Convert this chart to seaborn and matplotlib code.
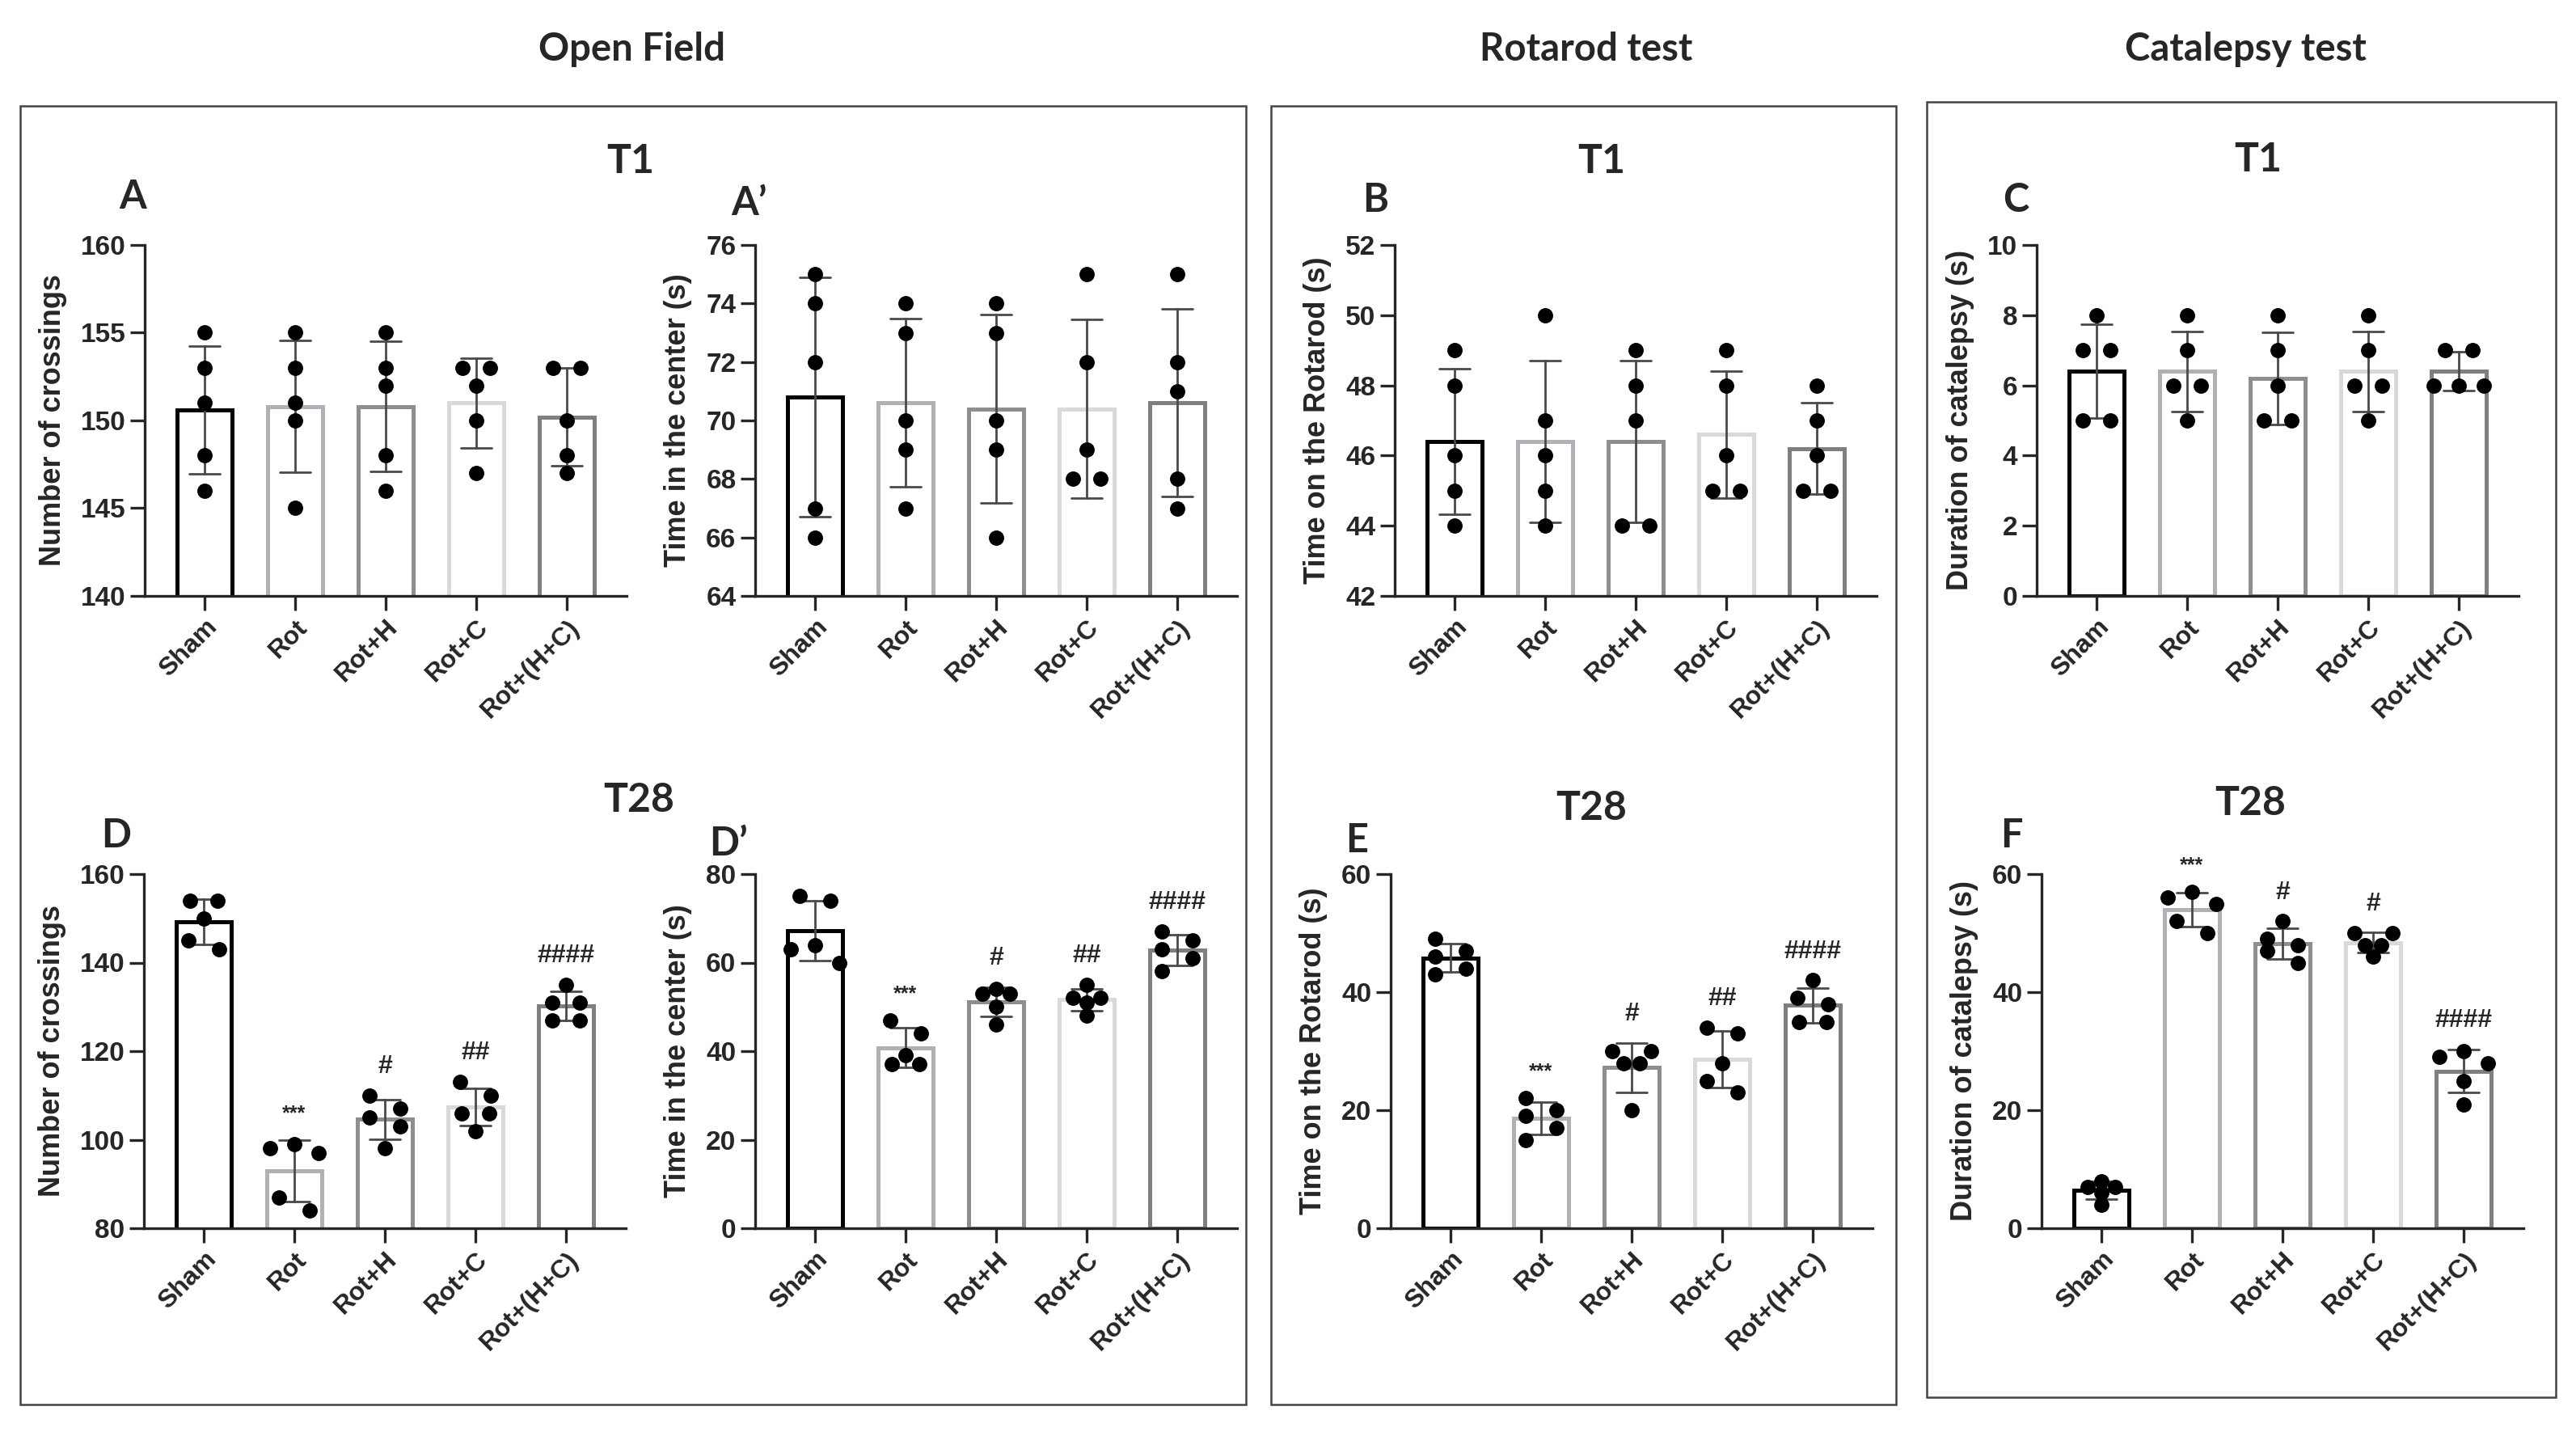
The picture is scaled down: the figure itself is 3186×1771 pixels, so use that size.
import numpy as np
import pandas as pd
import matplotlib
matplotlib.use('Agg')
import matplotlib.pyplot as plt
from matplotlib.patches import Rectangle
import seaborn as sns

sns.set_style('ticks')
plt.rcParams['font.family'] = ['Liberation Sans', 'DejaVu Sans']
plt.rcParams['font.weight'] = 'bold'
plt.rcParams['axes.labelweight'] = 'bold'

W, H = 3186, 1771

# groups and bar edge colours
groups = ['Sham', 'Rot', 'Rot+H', 'Rot+C', 'Rot+(H+C)']
edge_colors = ['#000000', '#b0b0b6', '#8e8e8e', '#d9d9d9', '#7f7f7f']

# T1 values (5 animals per group)
crossings_t1 = [[155, 153, 151, 148, 146], [155, 153, 151, 150, 145], [155, 153, 152, 148, 146],
                [153, 153, 152, 150, 147], [153, 153, 150, 148, 147]]
center_t1 = [[75, 74, 72, 67, 66], [74, 73, 70, 69, 67], [74, 73, 70, 69, 66],
             [75, 72, 69, 68, 68], [75, 72, 71, 68, 67]]
rotarod_t1 = [[49, 48, 46, 45, 44], [50, 47, 46, 45, 44], [49, 48, 47, 44, 44],
              [49, 48, 46, 45, 45], [48, 47, 46, 45, 45]]
catalepsy_t1 = [[8, 7, 7, 5, 5], [8, 7, 6, 6, 5], [8, 7, 6, 5, 5],
                [8, 7, 6, 6, 5], [7, 7, 6, 6, 6]]

# T28 values
crossings_t28 = [[154, 154, 150, 145, 143], [99, 98, 97, 87, 84], [110, 107, 105, 103, 98],
                 [113, 110, 106, 106, 102], [135, 131, 131, 127, 127]]
center_t28 = [[75, 74, 64, 63, 60], [47, 44, 39, 37, 37], [54, 53, 53, 50, 46],
              [55, 52, 52, 51, 48], [67, 65, 63, 61, 58]]
rotarod_t28 = [[49, 47, 46, 44, 43], [22, 20, 19, 17, 15], [30, 30, 28, 28, 20],
               [34, 33, 28, 25, 23], [42, 39, 38, 35, 35]]
catalepsy_t28 = [[8, 7, 7, 6, 4], [57, 56, 55, 52, 50], [52, 49, 48, 47, 45],
                 [50, 50, 48, 48, 46], [30, 29, 28, 25, 21]]

# significance marks
marks_crossings_t28 = ['', '***', '#', '##', '####']
marks_center_t28 = ['', '***', '#', '##', '####']
marks_rotarod_t28 = ['', '***', '#', '##', '####']
marks_catalepsy_t28 = ['', '***', '#', '#', '####']


def spread(values, px_per_unit, thr=18):
    # simple Prism-like scatter: spread points that would overlap
    vals = np.asarray(values, float)
    order = list(np.argsort(-vals, kind='stable'))
    offsets = np.zeros(len(vals))
    clusters = [[order[0]]]
    for i in order[1:]:
        if (vals[clusters[-1][-1]] - vals[i]) * px_per_unit < thr:
            clusters[-1].append(i)
        else:
            clusters.append([i])
    for cl in clusters:
        if len(cl) == 1:
            continue
        cv = vals[cl]
        ties = sorted([v for v in np.unique(cv) if (cv == v).sum() > 1], reverse=True)
        if ties:
            steps = [0.3] if len(ties) == 1 else [0.42, 0.18]
            for k, v in enumerate(ties):
                idx = [i for i in cl if vals[i] == v]
                n = len(idx)
                step = steps[k % len(steps)] if n == 2 else 0.28
                for j, i in enumerate(idx):
                    offsets[i] = (j - (n - 1) / 2) * step
        elif len(cl) == 3:
            for i, o in zip(cl, [0, -0.27, 0.27]):
                offsets[i] = o
        else:
            for j, i in enumerate(cl):
                offsets[i] = -0.17 if j % 2 == 0 else 0.17
    return offsets


fig = plt.figure(figsize=(W / 100, H / 100), dpi=100)


def draw_panel(left, top, bottom, values, ylim, yticks, ylabel, marks=None):
    ax = fig.add_axes([left / W, 1 - bottom / H, 596 / W, (bottom - top) / H])
    df = pd.DataFrame({'group': np.repeat(groups, [len(v) for v in values]),
                       'value': np.concatenate(values)})
    sns.barplot(data=df, x='group', y='value', hue='group', order=groups, hue_order=groups,
                palette=edge_colors, fill=False, width=0.6, linewidth=3.6,
                errorbar='sd', capsize=0.34,
                err_kws={'color': '#4a4a4a', 'linewidth': 2.0}, legend=False, ax=ax)

    # individual animals
    px_unit = (bottom - top) / (ylim[1] - ylim[0])
    xs, ys = [], []
    for gi, vals in enumerate(values):
        xs.extend(gi + spread(vals, px_unit))
        ys.extend(vals)
    sns.scatterplot(x=xs, y=ys, color='black', s=185, linewidth=0, zorder=5, ax=ax, legend=False)

    if marks:
        for gi, (vals, m) in enumerate(zip(values, marks)):
            if not m:
                continue
            topv = max(np.max(vals), np.mean(vals) + np.std(vals, ddof=1))
            ax.annotate(m, (gi, topv), xytext=(0, 15), textcoords='offset points',
                        ha='center', va='bottom', fontsize=23 if '#' in m else 18,
                        fontweight='bold', annotation_clip=False)

    ax.set_xlim(-0.66, 4.66)
    ax.set_ylim(*ylim)
    ax.set_yticks(yticks)
    ax.set_xlabel('')
    ax.set_ylabel(ylabel, fontsize=26, fontweight='bold', labelpad=12)
    sns.despine(ax=ax)
    for s in ['left', 'bottom']:
        ax.spines[s].set_linewidth(2.4)
    ax.tick_params(axis='both', length=13, width=2.4, labelsize=24, pad=4)
    plt.setp(ax.get_xticklabels(), rotation=45, ha='right', rotation_mode='anchor',
             fontsize=23, fontweight='bold')
    plt.setp(ax.get_yticklabels(), fontweight='bold')
    return ax


# top row (T1)
draw_panel(179, 303, 737, crossings_t1, (140, 160), range(140, 161, 5), 'Number of crossings')
draw_panel(934, 303, 737, center_t1, (64, 76), range(64, 77, 2), 'Time in the center (s)')
draw_panel(1725, 303, 737, rotarod_t1, (42, 52), range(42, 53, 2), 'Time on the Rotarod (s)')
draw_panel(2519, 303, 737, catalepsy_t1, (0, 10), range(0, 11, 2), 'Duration of catalepsy (s)')

# bottom row (T28)
draw_panel(178, 1081, 1519, crossings_t28, (80, 160), range(80, 161, 20), 'Number of crossings',
           marks_crossings_t28)
draw_panel(934, 1081, 1519, center_t28, (0, 80), range(0, 81, 20), 'Time in the center (s)',
           marks_center_t28)
draw_panel(1720, 1081, 1519, rotarod_t28, (0, 60), range(0, 61, 20), 'Time on the Rotarod (s)',
           marks_rotarod_t28)
draw_panel(2525, 1081, 1519, catalepsy_t28, (0, 60), range(0, 61, 20), 'Duration of catalepsy (s)',
           marks_catalepsy_t28)

title_font = ['Lato', 'DejaVu Sans']


def ftext(x, y, s, size, ha='center'):
    fig.text(x / W, 1 - y / H, s, fontsize=size, fontweight='bold', ha=ha, va='center',
             family=title_font)


# section headers
ftext(781, 61, 'Open Field', 34)
ftext(1962, 61, 'Rotarod test', 34)
ftext(2777, 61, 'Catalepsy test', 34)

# time point labels
for x, y, s in [(780, 200, 'T1'), (1981, 200, 'T1'), (2793, 197, 'T1'),
                (790, 990, 'T28'), (1968, 1000, 'T28'), (2783, 993, 'T28')]:
    ftext(x, y, s, 36)

# panel letters
for x, y, s in [(147, 244, 'A'), (904, 251, 'A’'), (1685, 248, 'B'), (2477, 248, 'C'),
                (125, 1033, 'D'), (877, 1044, 'D’'), (1664, 1039, 'E'), (2474, 1033, 'F')]:
    ftext(x, y, s, 35, ha='left')

# frames around each test
for x0, x1, y0, y1 in [(25, 1541, 131, 1737), (1572, 2345, 131, 1737), (2383, 3161, 126, 1728)]:
    fig.add_artist(Rectangle((x0 / W, 1 - y1 / H), (x1 - x0) / W, (y1 - y0) / H,
                             transform=fig.transFigure, fill=False, lw=1.8, ec='#444444'))

fig.savefig('out.png', dpi=100)
